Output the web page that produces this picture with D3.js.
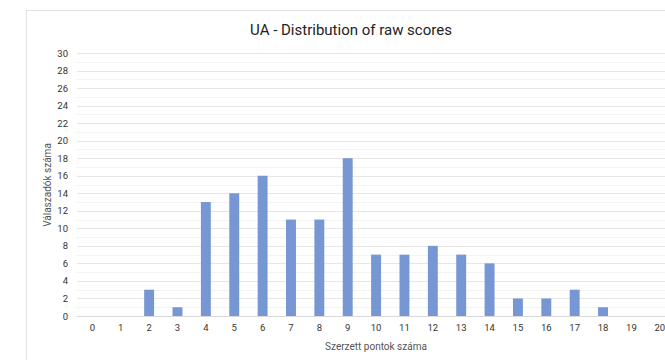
<!DOCTYPE html>
<html lang="en">
<head>
<meta charset="utf-8">
<title>UA - Distribution of raw scores</title>
<script src="https://d3js.org/d3.v7.min.js"></script>
<style>
body { margin: 0; background: #fff; }
</style>
</head>
<body>
<script type="text/javascript">
var w = 665;
var h = 360;

// data
var scores = ["0","1","2","3","4","5","6","7","8","9","10","11","12","13","14","15","16","17","18","19","20"];
var counts = [0, 0, 3, 1, 13, 14, 16, 11, 11, 18, 7, 7, 8, 7, 6, 2, 2, 3, 1, 0, 0];
var yTicks = [0, 2, 4, 6, 8, 10, 12, 14, 16, 18, 20, 22, 24, 26, 28, 30];

var titleText = "UA - Distribution of raw scores";
var xTitle = "Szerzett pontok száma";
var yTitle = "Válaszadók száma";

var font = "Roboto, 'Open Sans', sans-serif";

var svg = d3.select("body")
  .append("svg")
  .attr("width", w)
  .attr("height", h);

// chart frame
svg.append("rect")
  .attr("x", 26.5)
  .attr("y", 10.5)
  .attr("width", w + 20)
  .attr("height", h + 20)
  .attr("fill", "#fff")
  .attr("stroke", "#e2e2e2");

var xScale = d3.scaleBand()
  .domain(scores)
  .range([78.2, 78.2 + 28.37 * scores.length])
  .paddingInner(0.65)
  .paddingOuter(0.325);

var yScale = d3.scaleLinear()
  .domain([0, 30])
  .range([316, 53]);

// minor gridlines (odd values)
svg.selectAll("line.minor")
  .data(d3.range(1, 30, 2))
  .enter()
  .append("line")
  .attr("class", "minor")
  .attr("x1", 77)
  .attr("x2", w)
  .attr("y1", function(d) { return Math.round(yScale(d)) + 0.5; })
  .attr("y2", function(d) { return Math.round(yScale(d)) + 0.5; })
  .attr("stroke", "#f3f3f3");

// major gridlines
svg.selectAll("line.major")
  .data(yTicks)
  .enter()
  .append("line")
  .attr("class", "major")
  .attr("x1", 77)
  .attr("x2", w)
  .attr("y1", function(d) { return Math.round(yScale(d)) + 0.5; })
  .attr("y2", function(d) { return Math.round(yScale(d)) + 0.5; })
  .attr("stroke", function(d) { return d === 0 ? "#d9d9d9" : "#e6e6e6"; });

// y axis labels
var yAxis = d3.axisLeft(yScale)
  .tickValues(yTicks)
  .tickSize(0)
  .tickPadding(0);

svg.append("g")
  .attr("transform", "translate(68,0)")
  .call(yAxis)
  .call(function(g) { g.select(".domain").remove(); })
  .selectAll("text")
  .attr("font-family", font)
  .attr("font-size", "9.5px")
  .attr("fill", "#333");

// x axis labels
var xAxis = d3.axisBottom(xScale)
  .tickSize(0)
  .tickPadding(0);

svg.append("g")
  .attr("transform", "translate(0,324)")
  .call(xAxis)
  .call(function(g) { g.select(".domain").remove(); })
  .selectAll("text")
  .attr("font-family", font)
  .attr("font-size", "9.5px")
  .attr("fill", "#333");

// bars
svg.selectAll("rect.bar")
  .data(counts)
  .enter()
  .append("rect")
  .attr("class", "bar")
  .attr("x", function(d, i) { return xScale(scores[i]); })
  .attr("y", function(d) { return yScale(d); })
  .attr("width", xScale.bandwidth())
  .attr("height", function(d) { return yScale(0) - yScale(d); })
  .attr("fill", "#7697d3");

// title
svg.append("text")
  .attr("x", 351)
  .attr("y", 35)
  .attr("text-anchor", "middle")
  .attr("font-family", font)
  .attr("font-size", "15px")
  .attr("fill", "#222")
  .text(titleText);

// axis titles
svg.append("text")
  .attr("x", 376)
  .attr("y", 350)
  .attr("text-anchor", "middle")
  .attr("font-family", font)
  .attr("font-size", "10px")
  .attr("fill", "#555")
  .text(xTitle);

svg.append("text")
  .attr("transform", "translate(51,185) rotate(-90)")
  .attr("text-anchor", "middle")
  .attr("font-family", font)
  .attr("font-size", "10px")
  .attr("fill", "#555")
  .text(yTitle);
</script>
</body>
</html>
